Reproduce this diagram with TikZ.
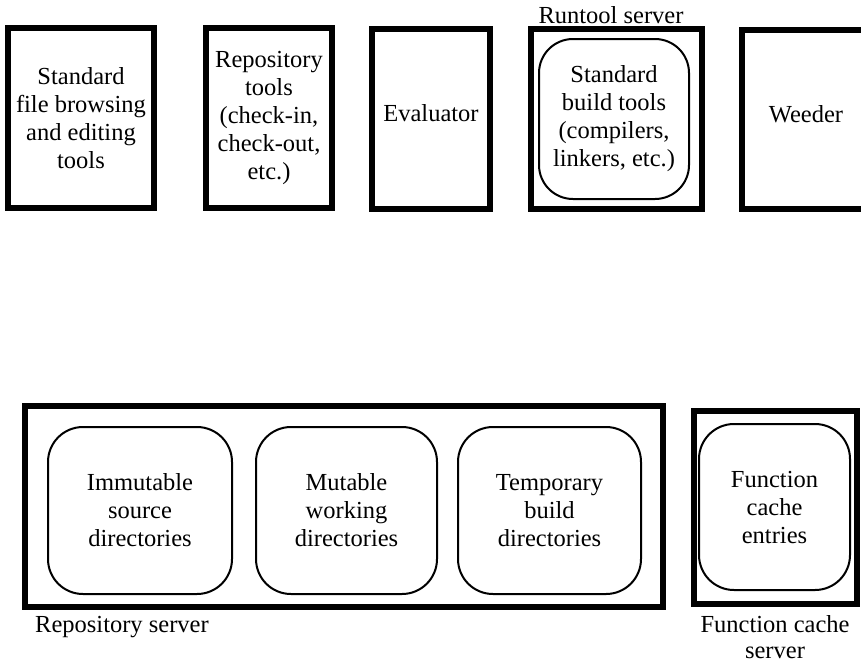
\documentclass[tikz,border=0pt]{standalone}
\usepackage{fontspec}
\setmainfont{Liberation Serif}
\begin{document}
\begin{tikzpicture}[x=1pt,y=-1pt,
  txt/.style={font=\fontsize{24.5}{28}\selectfont, align=center},
  thickbox/.style={draw, line width=5.5pt, rectangle, inner sep=0pt, txt},
  roundbox/.style={draw, line width=2pt, rectangle, rounded corners=#1, inner sep=0pt, txt},
  roundbox/.default=35pt,
  lbl/.style={font=\fontsize{24.5}{26}\selectfont, align=center, inner sep=0pt}]
\clip (0,0) rectangle (861,664);
% top row
\node[thickbox, minimum width=146, minimum height=180] (browse) at (81,118)
  {Standard\\file browsing\\and editing\\tools};
\node[thickbox, minimum width=126, minimum height=180] (repotools) at (269,118)
  {Repository\\tools\\(check-in,\\check-out,\\etc.)};
\node[thickbox, minimum width=118, minimum height=180] (eval) at (431,119)
  {\raisebox{12pt}{Evaluator}};
\node[thickbox, minimum width=171, minimum height=180] (runtool) at (616.5,119) {};
\node[roundbox=34pt, minimum width=150, minimum height=160] (build) at (614,119)
  {Standard\\build tools\\(compilers,\\linkers, etc.)};
\node[lbl, anchor=base] (runlbl) at (611,23) {Runtool server};
\node[thickbox, minimum width=128, minimum height=179] (weeder) at (806,119.5)
  {\raisebox{12pt}{Weeder}};
% bottom row
\node[thickbox, minimum width=638, minimum height=201] (reposrv) at (344,506.5) {};
\node[roundbox, minimum width=184, minimum height=167] (immut) at (140,510.5)
  {Immutable\\source\\directories};
\node[roundbox, minimum width=181, minimum height=167] (mut) at (346.5,510.5)
  {Mutable\\working\\directories};
\node[roundbox, minimum width=183, minimum height=167] (temp) at (549.5,510.5)
  {Temporary\\build\\directories};
\node[lbl, anchor=base west] (repolbl) at (35,632) {Repository server};
\node[thickbox, minimum width=163, minimum height=193] (fcsrv) at (775.5,507.5) {};
\node[roundbox, minimum width=151, minimum height=166] (fce) at (774.5,507)
  {Function\\cache\\entries};
\node[lbl, anchor=north] (fclbl) at (775,615) {Function cache\\server};
\end{tikzpicture}
\end{document}
